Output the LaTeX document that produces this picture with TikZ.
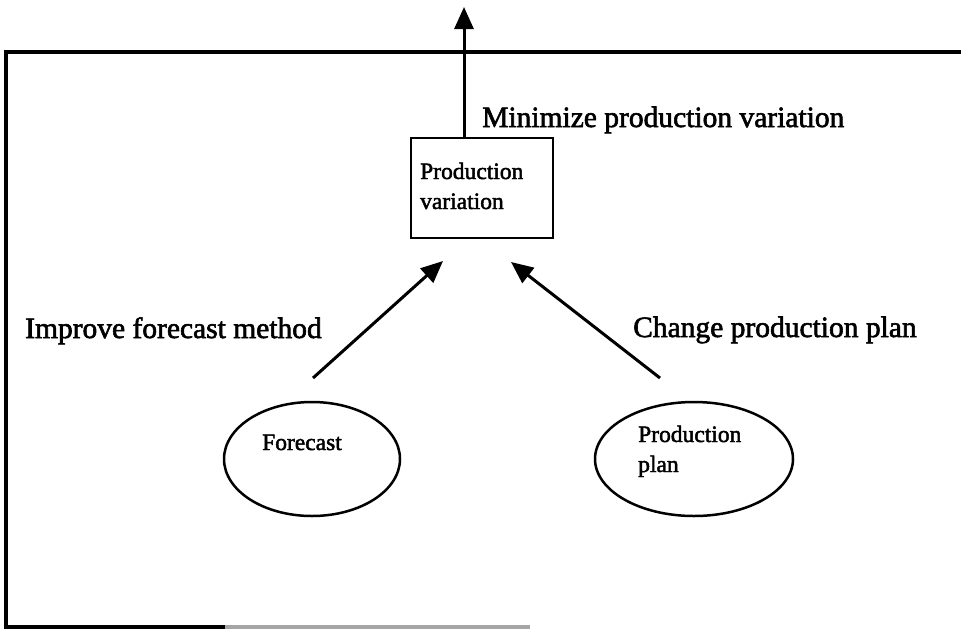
\documentclass[tikz,border=0pt]{standalone}
\usepackage{fontspec}
\setmainfont[FakeBold=2]{Liberation Serif}
\usetikzlibrary{arrows.meta,shapes.geometric}
\begin{document}
\begin{tikzpicture}[x=1pt,y=-1pt,
  frameline/.style={line width=3.2pt},
  flow/.style={line width=3pt,-{Triangle[length=22pt,width=19pt]}},
  smalltext/.style={font=\fontsize{23.5}{30}\selectfont,align=left,inner sep=0pt},
  bigtext/.style={font=\fontsize{29.5}{33}\selectfont,inner sep=0pt},
  oval/.style={draw,ellipse,line width=2.5pt,inner sep=0pt}]
\useasboundingbox (0,0) rectangle (961,630);
% frame: top, left, bottom
\draw[frameline] (961,52) -- (6,52) -- (6,627) -- (225,627);
\draw[frameline,black!35] (225,627) -- (530,627);
% central box
\node[draw,line width=2.8pt,minimum width=142pt,minimum height=100pt,inner sep=0pt] (box) at (482,188) {};
\node[smalltext,anchor=base west] (boxtxt) at (420,209) {Production\\variation};
% ellipses
\node[oval,minimum width=176pt,minimum height=114pt] (fc) at (312,459) {};
\node[smalltext,anchor=base west] (fctxt) at (262,450) {Forecast};
\node[oval,minimum width=198pt,minimum height=114pt] (pp) at (694,459) {};
\node[smalltext,anchor=base west] (pptxt) at (638,472) {Production\\plan};
% arrows
\coordinate (top) at (464,7);
\coordinate (a1) at (313,378);
\coordinate (a1t) at (443,261);
\coordinate (a2) at (660,378);
\coordinate (a2t) at (511,262);
\draw[flow] (box.north -| top) -- (top);
\draw[flow] (a1) -- (a1t);
\draw[flow] (a2) -- (a2t);
% labels
\node[bigtext,anchor=base west] (l1) at (482,127) {Minimize production variation};
\node[bigtext,anchor=base west] (l2) at (25,338) {Improve forecast method};
\node[bigtext,anchor=base west] (l3) at (633,337) {Change production plan};
\end{tikzpicture}
\end{document}
